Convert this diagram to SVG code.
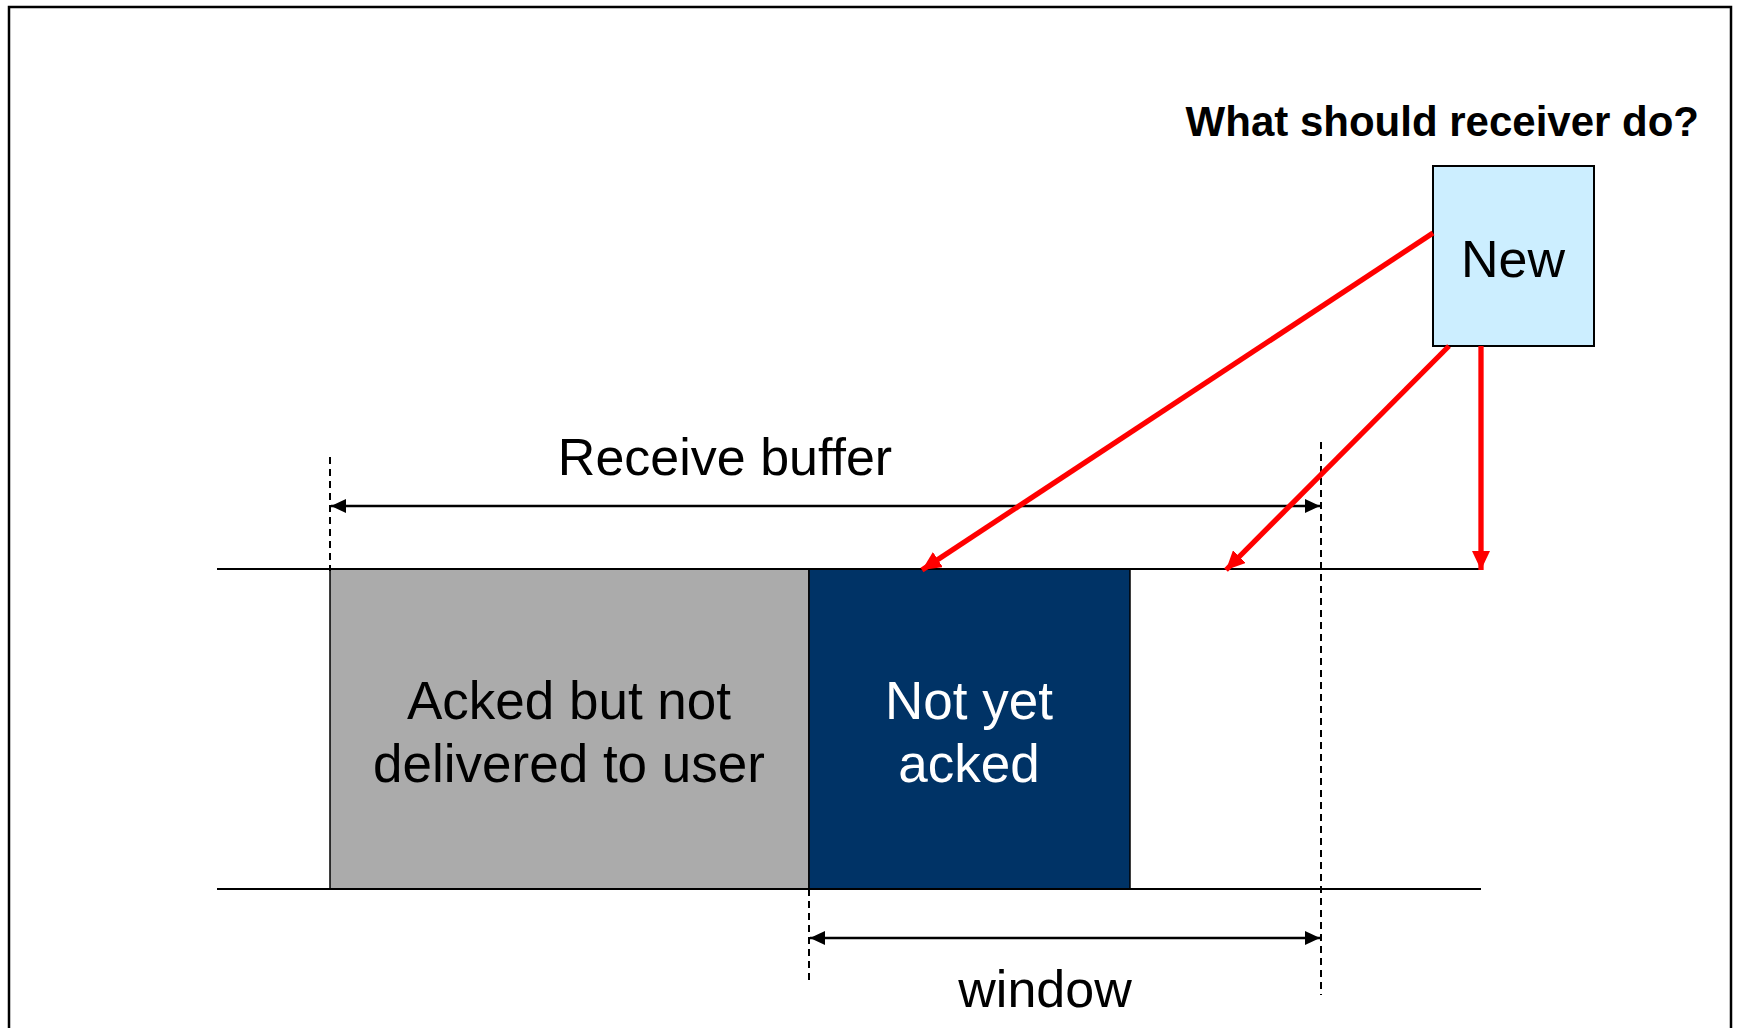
<svg xmlns="http://www.w3.org/2000/svg" width="1740" height="1028" viewBox="0 0 1740 1028">
  <style>
    .txt { font-family: "Liberation Sans", Arial, sans-serif; fill: #000; }
    .dim { stroke: #000; stroke-width: 2.3; fill: none; }
    .dash { stroke: #000; stroke-width: 2; stroke-dasharray: 7 5; fill: none; }
    .rail { stroke: #000; stroke-width: 2; }
    .red { stroke: #ff0000; stroke-width: 5.3; fill: none; }
  </style>
  <defs>
    <marker id="dimHead" viewBox="0 0 15 14" refX="15" refY="7" markerWidth="15" markerHeight="14" markerUnits="userSpaceOnUse" orient="auto-start-reverse">
      <path d="M0,0 L15,7 L0,14 Z" fill="#000"/>
    </marker>
    <marker id="redHead" viewBox="0 0 19 18" refX="19" refY="9" markerWidth="19" markerHeight="18" markerUnits="userSpaceOnUse" orient="auto">
      <path d="M0,0 L19,9 L0,18 Z" fill="#ff0000"/>
    </marker>
  </defs>

  <rect width="1740" height="1028" fill="#fff"/>
  <!-- outer frame, open at the bottom -->
  <rect x="9" y="7" width="1722" height="1060" fill="none" stroke="#000" stroke-width="2.5"/>

  <text class="txt" x="1699" y="136" font-size="42" font-weight="bold" text-anchor="end">What should receiver do?</text>

  <!-- buffer segments -->
  <g id="acked">
    <rect x="330" y="569" width="479" height="320" fill="#ababab" stroke="#000" stroke-width="1.5"/>
    <text class="txt" x="569" y="719" font-size="53" text-anchor="middle">Acked but not</text>
    <text class="txt" x="569" y="782" font-size="53" text-anchor="middle">delivered to user</text>
  </g>
  <g id="notyet">
    <rect x="809" y="569" width="321" height="320" fill="#003366" stroke="#000" stroke-width="1.5"/>
    <text class="txt" x="969" y="719" font-size="53" text-anchor="middle" style="fill:#fff">Not yet</text>
    <text class="txt" x="969" y="782" font-size="53" text-anchor="middle" style="fill:#fff">acked</text>
  </g>
  <g id="new">
    <rect x="1433" y="166" width="161" height="180" fill="#cceeff" stroke="#000" stroke-width="2"/>
    <text class="txt" x="1513" y="277" font-size="52" text-anchor="middle">New</text>
  </g>

  <!-- buffer rails -->
  <line class="rail" x1="217" y1="569" x2="1481" y2="569"/>
  <line class="rail" x1="217" y1="889" x2="1481" y2="889"/>

  <!-- dimension guides -->
  <line class="dash" x1="330" y1="457" x2="330" y2="571"/>
  <line class="dash" x1="1321" y1="442" x2="1321" y2="995"/>
  <line class="dash" x1="809" y1="889" x2="809" y2="982"/>

  <g id="receive-buffer">
    <line class="dim" x1="331" y1="506" x2="1320" y2="506" marker-start="url(#dimHead)" marker-end="url(#dimHead)"/>
    <text class="txt" x="725" y="475" font-size="52" text-anchor="middle">Receive buffer</text>
  </g>
  <g id="window">
    <line class="dim" x1="810" y1="938" x2="1320" y2="938" marker-start="url(#dimHead)" marker-end="url(#dimHead)"/>
    <text class="txt" x="1045" y="1007" font-size="52" text-anchor="middle">window</text>
  </g>

  <!-- arrows from the new segment -->
  <g id="connectors">
    <line class="red" x1="1433" y1="233" x2="922" y2="570" marker-end="url(#redHead)"/>
    <line class="red" x1="1449" y1="346" x2="1226" y2="570" marker-end="url(#redHead)"/>
    <line class="red" x1="1481" y1="346" x2="1481" y2="570" marker-end="url(#redHead)"/>
  </g>
</svg>
